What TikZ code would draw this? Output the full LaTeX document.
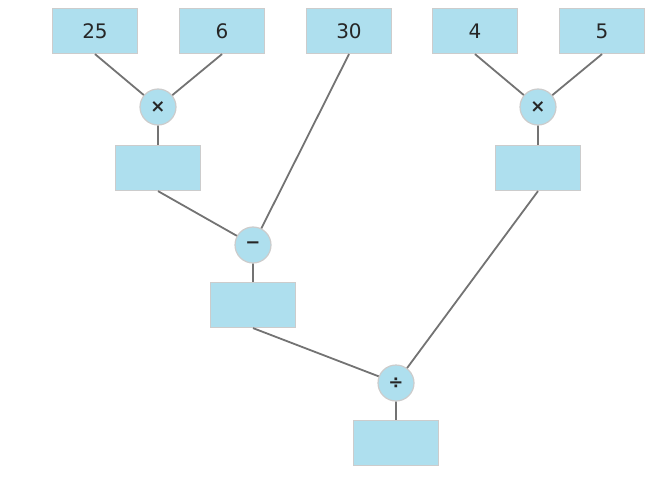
\documentclass[tikz,border=0pt]{standalone}
\usepackage{fontspec}
\setmainfont{DejaVu Sans}
\begin{document}
\begin{tikzpicture}[x=1pt,y=-1pt,
 box/.style={draw=black!20,line width=1.2pt,fill=fillc,minimum width=85pt,minimum height=45pt,inner sep=0pt,font=\fontsize{20}{20}\selectfont,text=black!85},
 op/.style={circle,draw=black!20,line width=1.2pt,fill=fillc,minimum size=36pt,inner sep=0pt,font=\bfseries\fontsize{18}{18}\selectfont,text=black!85},
 ln/.style={draw=black!55,line width=1.8pt}]
\definecolor{fillc}{HTML}{AEDFEE}
\useasboundingbox (0,0) rectangle (672,487);
\node[box] (a) at (95,31) {25};
\node[box] (b) at (222,31) {6};
\node[box] (c) at (349,31) {30};
\node[box] (d) at (475,31) {4};
\node[box] (e) at (602,31) {5};
\node[op] (m1) at (158,107) {×};
\node[op] (m2) at (538,107) {×};
\node[box] (r1) at (158,168) {};
\node[box] (r2) at (538,168) {};
\node[op] (s) at (253,245) {−};
\node[box] (r3) at (253,305) {};
\node[op] (dv) at (396,383) {÷};
\node[box] (r4) at (396,443) {};
\begin{scope}[on background layer/.style={}]
\end{scope}
\path[ln] (a.south) -- (m1) (b.south) -- (m1) (m1) -- (r1.north)
 (d.south) -- (m2) (e.south) -- (m2) (m2) -- (r2.north)
 (r1.south) -- (s) (c.south) -- (s) (s) -- (r3.north)
 (r3.south) -- (dv) (r2.south) -- (dv) (dv) -- (r4.north);
\end{tikzpicture}
\end{document}
